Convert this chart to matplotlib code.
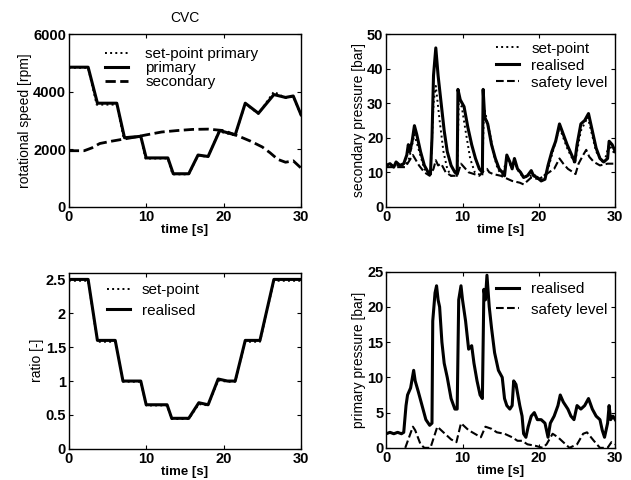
import matplotlib
matplotlib.use("Agg")
import matplotlib.pyplot as plt

plt.rcParams['font.family'] = ['Liberation Sans', 'DejaVu Sans']

# rotational speed [rpm]
t_prim = [0, 2.5, 3.7, 6.2, 7.2, 9.3, 10.0, 12.8, 13.5, 15.5, 16.7, 18.0, 19.5,
          21.5, 22.8, 24.5, 26.5, 28.0, 29.0, 30]
n_prim = [4850, 4850, 3600, 3600, 2400, 2450, 1700, 1700, 1150, 1150, 1800, 1750, 2650,
          2500, 3600, 3250, 3900, 3800, 3850, 3200]
t_prim_sp = [0, 2.5, 3.6, 6.2, 7.1, 9.3, 9.9, 12.8, 13.4, 15.5, 16.7, 18.0, 19.4,
             21.5, 22.8, 24.5, 26.5, 28.0, 29.0, 30]
n_prim_sp = [4830, 4830, 3550, 3550, 2380, 2430, 1680, 1680, 1130, 1130, 1780, 1740, 2620,
             2480, 3580, 3230, 4000, 3780, 3830, 3180]
t_sec = [0, 2, 3, 4, 5.5, 7, 8.5, 10, 12, 14, 16, 18, 20, 22, 23.5, 25, 26, 27, 28, 29, 30]
n_sec = [1950, 1950, 2050, 2200, 2280, 2350, 2420, 2500, 2600, 2650, 2690, 2700, 2650,
         2450, 2280, 2080, 1880, 1650, 1550, 1600, 1350]

# ratio [-]
t_ratio = [0, 2.5, 3.7, 6.0, 7.0, 9.3, 10.0, 12.7, 13.3, 15.5, 16.8, 18.0, 19.3,
           20.5, 21.5, 22.8, 24.7, 26.5, 30]
r_real = [2.5, 2.5, 1.6, 1.6, 1.0, 1.0, 0.65, 0.65, 0.45, 0.45, 0.68, 0.65, 1.03,
          1.0, 1.0, 1.6, 1.6, 2.5, 2.5]
r_sp = [2.48, 2.48, 1.58, 1.58, 0.99, 0.99, 0.64, 0.64, 0.44, 0.44, 0.66, 0.64, 1.01,
        0.99, 0.99, 1.58, 1.58, 2.48, 2.48]

# secondary pressure [bar]
t_ps = [0, 0.5, 1.0, 1.3, 1.8, 2.3, 2.7, 2.9, 3.1, 3.4, 3.7, 4.0, 4.5, 5.0, 5.5, 5.8,
        6.0, 6.2, 6.5, 6.8, 7.2, 7.6, 8.0, 8.5, 9.0, 9.3, 9.4, 9.7, 10.2, 10.7, 11.2,
        11.7, 12.2, 12.6, 12.7, 12.9, 13.3, 13.8, 14.3, 14.8, 15.2, 15.5, 15.8, 16.2,
        16.5, 16.8, 17.2, 17.6, 18.0, 18.5, 19.0, 19.3, 19.8, 20.3, 20.8, 21.2, 21.7,
        22.2, 22.7, 23.2, 23.7, 24.3, 24.7, 25.0, 25.5, 26.0, 26.5, 27.0, 27.5, 28.0,
        28.5, 29.0, 29.2, 29.6, 30]
ps_real = [12, 12.5, 11.5, 13, 12, 12.5, 15, 18, 16, 19, 23.5, 21, 16, 12, 10, 9.5,
           20, 38, 46, 38, 30, 22, 16, 12, 10, 9.5, 34, 31, 29, 23, 18,
           14, 11, 10, 34, 26, 24, 18, 14, 11, 10, 9, 15, 13,
           11, 14, 11, 10, 8.5, 9, 10.5, 9, 8.5, 7.5, 8, 12, 16,
           19, 24, 21, 18, 15, 13, 18, 24, 25, 27, 22, 17, 14,
           13, 14, 19, 18, 16]
t_ps_sp = [0, 2.5, 3.0, 3.7, 4.2, 5.0, 5.8, 6.2, 6.5, 7.0, 7.5, 8.0, 8.5, 9.3, 9.5,
           9.9, 10.4, 11.0, 11.6, 12.6, 12.8, 13.1, 13.6, 14.1, 14.6, 15.2, 15.8, 16.3,
           16.8, 17.5, 18.5, 19.3, 20.3, 21.2, 22.7, 23.7, 24.7, 25.5, 26.4, 27.5, 28.5,
           29.2, 30]
ps_sp = [12, 12, 14, 21, 17, 11, 9, 30, 35, 25, 16, 11, 9, 9, 30,
         29, 22, 14, 10, 9, 29, 26, 21, 15, 11, 9, 14, 12,
         13, 9.5, 8.5, 9.5, 7.5, 11, 23, 17, 12.5, 22, 26, 16, 12.5,
         18, 15]
t_ps_safe = [0, 2.5, 3.5, 4.3, 5.0, 5.7, 6.2, 6.5, 6.8, 7.2, 7.8, 8.5, 9.3, 9.8, 10.2,
             10.8, 11.5, 12.2, 12.8, 13.2, 13.5, 14.0, 15.0, 16.0, 16.5, 17.5, 18.0,
             19.0, 20.0, 21.0, 22.0, 22.7, 23.2, 23.8, 24.5, 24.8, 25.2, 25.8, 26.2,
             26.6, 27.2, 28.0, 29.0, 30]
ps_safe = [11.5, 11.5, 15, 12, 10, 9, 11, 13.5, 12, 12.5, 10, 9, 9, 12.5, 11.5,
           10, 9.5, 9, 10.5, 11, 10, 9.5, 9, 8, 7.5, 7, 6.5,
           8.5, 8, 9.5, 11, 14, 12.5, 11, 10, 9.5, 12.5, 15, 16.5,
           14.5, 13, 12, 12.5, 12.5]

# primary pressure [bar]
t_pp = [0, 0.5, 1, 1.5, 2, 2.3, 2.6, 2.8, 3.2, 3.6, 3.8, 4.2, 4.7, 5.2, 5.7, 6.0,
        6.1, 6.4, 6.6, 6.8, 7.0, 7.3, 7.6, 8.0, 8.5, 9.0, 9.3, 9.5, 9.8, 10.0, 10.4,
        10.8, 11.2, 11.5, 11.9, 12.3, 12.6, 12.8, 13.0, 13.2, 13.5, 13.8, 14.2, 14.7,
        15.2, 15.5, 15.8, 16.2, 16.5, 16.7, 17.0, 17.5, 17.8, 18.0, 18.3, 18.6, 19.0,
        19.4, 19.8, 20.3, 20.8, 21.2, 21.5, 22.0, 22.5, 22.8, 23.2, 23.8, 24.2, 24.6,
        25.0, 25.5, 26.0, 26.5, 27.0, 27.5, 28.0, 28.3, 28.6, 29.0, 29.2, 29.4, 29.7, 30]
pp_real = [2, 2.2, 2, 2.2, 2, 2.2, 6, 7.5, 8.5, 11, 9.5, 8, 6, 4, 3.2, 3.5,
           18, 22, 23, 21, 20, 15, 12, 10, 7, 5.5, 5.5, 21, 23, 21, 18,
           14, 14.5, 12, 9.5, 7.5, 7, 22.5, 21, 24.5, 20, 17, 13.5, 11,
           10, 7, 6, 5.5, 6, 9.5, 9, 6, 4.5, 2, 1.5, 3, 4.5,
           5, 4, 4, 3.5, 1.5, 3.5, 4.5, 6, 7.5, 6.5, 5.5, 4.5, 4,
           6, 5.5, 6, 7, 5.5, 4.5, 4, 2.5, 1.5, 3.5, 6, 4, 4.5, 4]
t_pp_safe = [2.5, 3.5, 3.8, 4.5, 5.0, 5.8, 6.7, 7.7, 8.5, 9.2, 9.8, 10.8, 11.6, 12.4,
             13.0, 13.8, 14.5, 15.5, 16.5, 17.2, 17.8, 18.5, 19.5, 20.5, 21.0, 21.8,
             22.5, 23.5, 24.0, 25.0, 25.8, 26.3, 27.2, 28.0, 29.0, 29.5, 30]
pp_safe = [0, 3, 2.5, 0.5, 0, 0, 3, 2, 1.2, 0.8, 3.5, 2.5, 2, 1.5,
           3, 2.7, 2.2, 2, 1.5, 1, 1, 0.5, 0.3, 0, 0.5, 2,
           1.5, 0.5, 0, 0.5, 2, 2.2, 1, 0, 0, 0.8, 0.5]

fig = plt.figure(figsize=(6.31, 4.80), dpi=100)
ax1 = fig.add_axes([0.109, 0.569, 0.368, 0.360])
ax2 = fig.add_axes([0.612, 0.569, 0.363, 0.360])
ax3 = fig.add_axes([0.109, 0.065, 0.368, 0.367])
ax4 = fig.add_axes([0.612, 0.067, 0.363, 0.367])

lw = 2.2
leg_kw = dict(frameon=False, fontsize=11, handlelength=1.5,
              borderpad=0.2, borderaxespad=0.3)

ax1.plot(t_prim_sp, n_prim_sp, 'k:', lw=1.4, label='set-point primary')
ax1.plot(t_prim, n_prim, 'k-', lw=lw, label='primary')
ax1.plot(t_sec, n_sec, 'k--', lw=2.0, label='secondary')
ax1.set_ylim(0, 6000)
ax1.set_yticks([0, 2000, 4000, 6000])
ax1.set_ylabel('rotational speed [rpm]')
ax1.set_title('CVC', fontsize=10, pad=9)
ax1.legend(loc='upper left', bbox_to_anchor=(0.125, 0.97), labelspacing=0.0,
           handletextpad=1.1, **leg_kw)

ax2.plot(t_ps_sp, ps_sp, 'k:', lw=1.4, label='set-point')
ax2.plot(t_ps, ps_real, 'k-', lw=lw, label='realised')
ax2.plot(t_ps_safe, ps_safe, 'k--', lw=1.5, label='safety level')
ax2.set_ylim(0, 50)
ax2.set_yticks([0, 10, 20, 30, 40, 50])
ax2.set_ylabel('secondary pressure [bar]')
ax2.legend(loc='upper right', labelspacing=0.2, handletextpad=0.8, **leg_kw)

ax3.plot(t_ratio, r_sp, 'k:', lw=1.4, label='set-point')
ax3.plot(t_ratio, r_real, 'k-', lw=lw, label='realised')
ax3.set_ylim(0, 2.6)
ax3.set_yticks([0, 0.5, 1, 1.5, 2, 2.5])
ax3.set_yticklabels(['0', '0.5', '1', '1.5', '2', '2.5'])
ax3.set_ylabel('ratio [-]')
ax3.legend(loc='upper left', bbox_to_anchor=(0.13, 0.985), labelspacing=0.45,
           handletextpad=0.8, **leg_kw)

ax4.plot(t_pp, pp_real, 'k-', lw=lw, label='realised')
ax4.plot(t_pp_safe, pp_safe, 'k--', lw=1.5, label='safety level')
ax4.set_ylim(0, 25)
ax4.set_yticks([0, 5, 10, 15, 20, 25])
ax4.set_ylabel('primary pressure [bar]')
ax4.legend(loc='upper right', bbox_to_anchor=(1.0, 0.985), labelspacing=0.45,
           handletextpad=0.8, **leg_kw)

for ax in (ax1, ax2, ax3, ax4):
    ax.set_xlim(0, 30)
    ax.set_xticks([0, 10, 20, 30])
    ax.set_xlabel('time [s]', fontsize=9.5, fontweight='bold', labelpad=0)
    ax.yaxis.label.set_size(10)
    ax.yaxis.labelpad = 1
    ax.tick_params(direction='in', top=True, right=True, length=3, labelsize=10.5, pad=2)
    for lab in ax.get_xticklabels() + ax.get_yticklabels():
        lab.set_fontweight('bold')
    for sp in ax.spines.values():
        sp.set_linewidth(1.0)

fig.savefig('out.png', dpi=100)
